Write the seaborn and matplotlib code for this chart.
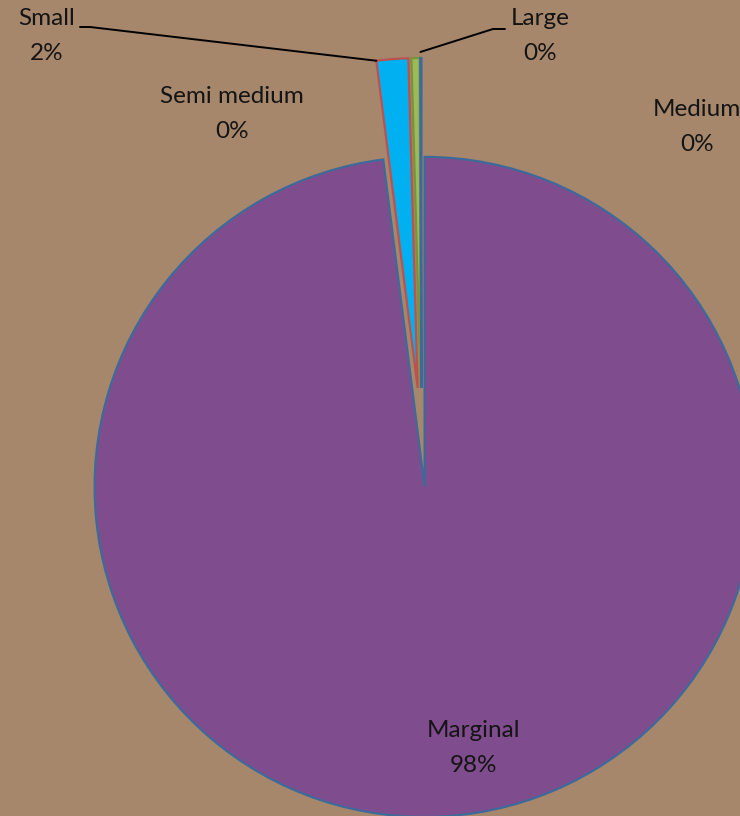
import numpy as np
import matplotlib
matplotlib.use("Agg")
import matplotlib.pyplot as plt
import seaborn as sns

# ---- data ----
categories = ["Marginal", "Small", "Semi medium", "Medium", "Large"]
shares = [98.0, 1.55, 0.4, 0.0, 0.05]

# ---- styles ----
bg = "#A6876C"
fills = ["#7F4D8E", "#00B0F0", "#9BBB59", "#4F81BD", "#4F81BD"]
edges = ["#3E6A9A", "#C0504D", "#77933C", "#4F81BD", "#3E6A9A"]

sns.set_style("white")
plt.rcParams["font.family"] = ["Lato", "DejaVu Sans"]

W, H, DPI = 740, 816, 100
fig = plt.figure(figsize=(W / DPI, H / DPI), dpi=DPI, facecolor=bg)
ax = fig.add_axes([0, 0, 1, 1])
ax.set_facecolor(bg)

R = 330.0              # pie radius in pixels
cx, cy = 421.5, 437.5  # pie centre in pixels (from top-left)

def px(x, y):
    return ((x - cx) / R, (cy - y) / R)

wedges, _ = ax.pie(shares, startangle=90, counterclock=False,
                   explode=[0.15] * len(shares), radius=1.0,
                   colors=fills,
                   wedgeprops=dict(linewidth=1.6))
for w, ec in zip(wedges, edges):
    w.set_edgecolor(ec)

ax.set_xlim(-cx / R, (W - cx) / R)
ax.set_ylim(-(H - cy) / R, cy / R)
ax.set_aspect("auto")
ax.axis("off")

pcts = [f"{round(v):d}%" for v in shares]
fs = 17.5

label_pos = {
    "Small": (47, 36),
    "Semi medium": (232, 114),
    "Medium": (697, 127),
    "Large": (540, 36),
    "Marginal": (474, 748),
}
for name, pct in zip(categories, pcts):
    x, y = px(*label_pos[name])
    ax.text(x, y, f"{name}\n{pct}", ha="center", va="center",
            fontsize=fs, color="#141414", linespacing=1.8)

def corner(w, which):
    t = np.deg2rad(max(w.theta1, w.theta2) if which == "left" else min(w.theta1, w.theta2))
    c = w.center
    return (c[0] + w.r * np.cos(t), c[1] + w.r * np.sin(t))

# leader lines
sx, sy = corner(wedges[1], "left")
p1 = px(90, 27)
p2 = px(80, 27)
ax.plot([sx, p1[0], p2[0]], [sy, p1[1], p2[1]], color="black", lw=1.4)

lx, ly = corner(wedges[4], "left")
q1 = px(493, 29)
q2 = px(505, 29)
ax.plot([lx, q1[0], q2[0]], [ly + 6 / R, q1[1], q2[1]], color="black", lw=1.4)

fig.savefig("out.png", dpi=DPI, facecolor=bg)
